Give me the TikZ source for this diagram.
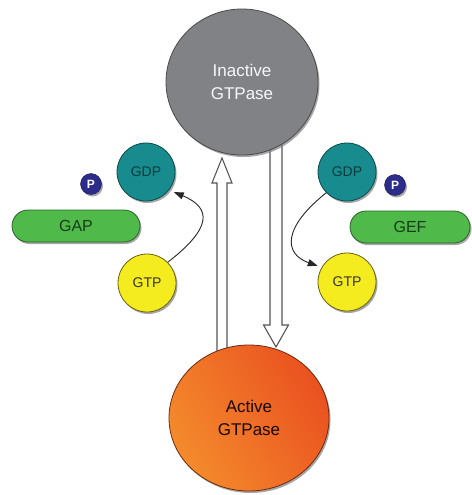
\documentclass[tikz,border=0pt]{standalone}
\usepackage{fontspec}
\setmainfont{Liberation Sans}
\usetikzlibrary{shapes.geometric,shapes.misc,shadows,calc,backgrounds,arrows.meta}
\definecolor{grayfill}{HTML}{808285}
\definecolor{grayline}{HTML}{4A4A4C}
\definecolor{orA}{HTML}{F48A2C}
\definecolor{orB}{HTML}{EA5220}
\definecolor{orline}{HTML}{6E2A0C}
\definecolor{tealfill}{HTML}{178B8D}
\definecolor{tealline}{HTML}{0B4A4C}
\definecolor{yelfill}{HTML}{F4EC1E}
\definecolor{yelline}{HTML}{6A620E}
\definecolor{grnfill}{HTML}{4FBA4A}
\definecolor{grnline}{HTML}{2A632A}
\definecolor{navy}{HTML}{2C2C8A}
\definecolor{hollowline}{HTML}{555555}
\tikzset{
  x=1pt, y=-1pt,
  shadowed/.style={drop shadow={shadow xshift=1.5pt, shadow yshift=-2pt, opacity=.7}},
  bigell/.style={ellipse, inner sep=0pt, line width=0.8pt, align=center, shadowed,
    font=\fontsize{17}{23}\selectfont},
  small/.style={circle, inner sep=0pt, minimum size=58pt, line width=0.8pt, shadowed,
    font=\fontsize{14}{15}\selectfont},
  gdpball/.style={small, fill=tealfill, draw=tealline, text=tealline!80!black},
  gtpball/.style={small, fill=yelfill, draw=yelline, text=black!80},
  pill/.style={rounded rectangle, inner sep=0pt, minimum height=32pt, line width=0.8pt,
    fill=grnfill, draw=grnline, text=grnline!60!black, shadowed,
    font=\fontsize{16}{18}\selectfont},
  pball/.style={circle, inner sep=0pt, minimum size=21pt, fill=navy, draw=navy!60!black,
    text=white, font=\bfseries\fontsize{12}{12}\selectfont, shadowed},
  hollow/.style={draw=hollowline, fill=white, line width=1.1pt, line join=miter},
  curvearrow/.style={line width=0.9pt, draw=black!85, -{Triangle[length=10pt,width=7pt]}},
}
\begin{document}
\begin{tikzpicture}
\useasboundingbox (0,0) rectangle (471,495);
% big ellipses
\node[bigell, minimum width=152pt, minimum height=146pt, fill=grayfill, draw=grayline,
  text=white!94!gray] (inact) at (242,82) {Inactive\\GTPase};
\node[bigell, minimum width=160pt, minimum height=146pt, draw=orline,
  left color=orA, right color=orB, shading angle=120, text=black!80!orline] (act) at (249,418) {Active\\GTPase};
% small balls
\node[gdpball] (gdpL) at (146,172) {GDP};
\node[gtpball] (gtpL) at (147,283) {GTP};
\node[gdpball] (gdpR) at (347,172) {GDP};
\node[gtpball] (gtpR) at (347,282) {GTP};
% pills
\node[pill, minimum width=128pt] (gap) at (76,226) {GAP};
\node[pill, minimum width=120pt] (gef) at (410,227) {GEF};
% phosphates
\node[pball] (pL) at (91,184) {P};
\node[pball] (pR) at (395,185) {P};
% curved arrows
\draw[curvearrow, shorten >=5pt] (gtpL.45) .. controls (212,228) and (212,208) .. (gdpL.-38);
\draw[curvearrow, shorten >=4pt] (gdpR.-135) .. controls (282,228) and (284,254) .. (gtpR.150);
% hollow arrows behind ellipses
\coordinate (upB) at (222,352);
\coordinate (upT) at (222,158);
\coordinate (dnB) at (276,140);
\coordinate (dnT) at (276,347);
\begin{pgfonlayer}{background}
\draw[hollow] ($(upB)+(-5,0)$) -- ($(upT)+(-5,25)$) -- ($(upT)+(-10,25)$) -- (upT)
  -- ($(upT)+(10,25)$) -- ($(upT)+(5,25)$) -- ($(upB)+(5,0)$) -- cycle;
\draw[hollow] ($(dnB)+(-6,0)$) -- ($(dnT)+(-6,-22)$) -- ($(dnT)+(-12.5,-22)$) -- (dnT)
  -- ($(dnT)+(12.5,-22)$) -- ($(dnT)+(6,-22)$) -- ($(dnB)+(6,0)$) -- cycle;
\end{pgfonlayer}
\end{tikzpicture}
\end{document}
